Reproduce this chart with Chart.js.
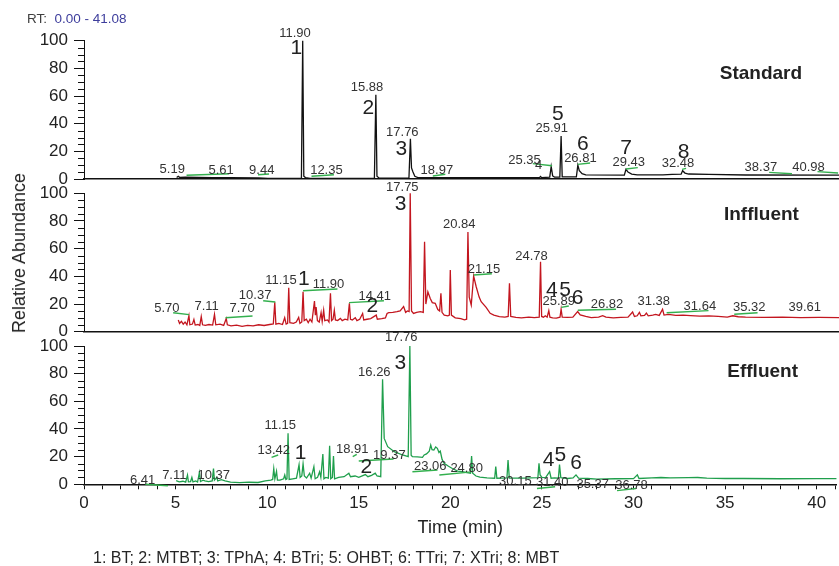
<!DOCTYPE html>
<html><head><meta charset="utf-8">
<script src="https://cdn.jsdelivr.net/npm/chart.js@4.4.1/dist/chart.umd.min.js"></script>
<style>
html,body{margin:0;padding:0;background:#fff;}
#wrap{position:relative;width:839px;height:566px;overflow:hidden;font-family:"Liberation Sans",Arial,sans-serif;}
canvas{position:absolute;left:0;top:0;}
.txt{position:absolute;white-space:nowrap;color:#262626;}
</style></head><body>
<div id="wrap">
<canvas id="cStd" width="839" height="566"></canvas>
<canvas id="cInf" width="839" height="566"></canvas>
<canvas id="cEff" width="839" height="566"></canvas>
<div class="txt" style="left:27px;top:11px;font-size:13.5px;line-height:16px;color:#404040;">RT:&nbsp; <span style="color:#3d3d9c">0.00 - 41.08</span></div>
<div class="txt" style="left:19px;top:252.5px;font-size:18px;line-height:20px;transform:translate(-50%,-50%) rotate(-90deg);">Relative Abundance</div>
<div class="txt" style="left:93px;top:548.5px;font-size:16px;line-height:18px;">1: BT; 2: MTBT; 3: TPhA; 4: BTri; 5: OHBT; 6: TTri; 7: XTri; 8: MBT</div>
</div>
<script>
// ---------- DATA ----------
const xTickLabels = [0, 5, 10, 15, 20, 25, 30, 35, 40];
const yTickLabels = [0, 20, 40, 60, 80, 100];

// Standard chromatogram [time (min), relative abundance]
const stdTrace = [
  [5.04,1.0],[5.13,2.0],[5.2,1.2],[5.5,1.3],[7.0,1.0],[8.0,0.9],[9.5,0.8],[10.0,0.5],[11.5,0.4],
  [11.83,0.5],[11.9,100],[11.96,2],[12.05,1],[12.3,0.5],[15.8,0.5],[15.88,61],[15.94,2],[16.05,0.8],
  [17.68,0.6],[17.76,29],[17.82,8],[17.9,5],[18.0,2],[18.2,0.9],[24.78,1.0],[24.84,1.8],[24.9,1.0],
  [25.34,1.3],[25.42,9],[25.5,2.2],[25.6,1.4],[25.89,1.4],[25.96,31],[26.02,1.6],[26.79,1.6],
  [26.87,10],[26.95,6],[27.1,3.8],[27.3,3.0],[29.4,2.8],[29.49,7],[29.6,5],[29.8,3.6],[30.1,3.0],
  [31.5,3.0],[32.0,3.4],[32.49,3.5],[32.57,6],[32.7,4.3],[32.9,3.6],[34.0,3.3],[36.0,2.9],[41.08,2.8]
];
// Influent chromatogram
const infTrace = [
  [5.13,8.5],[5.2,6],[5.3,7.5],[5.4,5.5],[5.5,7],[5.6,5],[5.71,11.6],[5.76,5],[5.9,5.5],[5.98,8.9],
  [6.05,4.8],[6.2,5.2],[6.3,4.5],[6.38,10.9],[6.45,5],[6.6,4.6],[6.8,5.2],[7.0,4.8],[7.1,12.5],[7.17,5],
  [7.4,5.4],[7.6,4.5],[7.74,9.6],[7.8,5],[8.0,4.2],[8.3,4.8],[8.6,3.9],[8.9,4.6],[9.2,4.2],[9.5,5],
  [9.8,4.5],[10.1,5.2],[10.3,5.6],[10.38,21.2],[10.44,5.5],[10.6,6],[10.8,5.2],[10.92,10.1],[11.0,5.5],
  [11.08,6],[11.14,31.8],[11.2,6.5],[11.4,6],[11.55,7],[11.68,10.3],[11.75,6],[11.85,7],[11.92,28.9],
  [11.98,8],[12.1,9],[12.2,6.5],[12.3,9],[12.4,7],[12.54,22.2],[12.59,12],[12.63,17.8],[12.7,8],[12.8,7],
  [12.9,13.8],[12.96,7.5],[13.04,15.5],[13.1,8],[13.25,8.5],[13.33,7],[13.41,27.7],[13.47,8],[13.55,9],
  [13.62,15.5],[13.68,8.5],[13.8,8],[13.95,9.6],[14.05,8],[14.2,9],[14.35,8.5],[14.44,20.5],[14.5,9],
  [14.6,8.5],[14.76,10.1],[14.85,8],[15.0,9],[15.16,13.2],[15.22,8.5],[15.4,9],[15.6,9.5],[15.9,12],
  [15.96,9],[16.2,9.5],[16.4,10],[16.49,13.2],[16.58,13.8],[16.8,14],[17.03,14.5],[17.2,15],[17.39,18.1],
  [17.5,14],[17.6,15],[17.69,14.5],[17.75,100],[17.82,15],[17.93,13.2],[18.1,14],[18.3,14.5],[18.46,14],
  [18.53,65],[18.6,20],[18.71,28.8],[18.84,24],[18.95,21],[19.11,20.5],[19.25,16],[19.35,15],[19.42,27.7],
  [19.48,14],[19.6,12],[19.8,11.5],[19.88,12],[19.93,44.6],[19.99,12],[20.2,10],[20.5,9.5],[20.7,8.5],
  [20.82,9],[20.89,72],[20.96,25],[21.07,19.3],[21.2,40.2],[21.34,32.5],[21.5,25],[21.61,21.7],[21.88,17.6],
  [22.1,13.3],[22.3,12],[22.6,10.9],[22.9,10.5],[23.08,11],[23.15,34.9],[23.22,11],[23.5,10.4],[23.8,10],
  [24.2,10.6],[24.5,10.2],[24.77,10.5],[24.84,50.6],[24.9,11],[25.0,10.5],[25.1,11.5],[25.2,10.5],
  [25.29,15.2],[25.35,10.5],[25.5,10],[25.7,9.8],[25.9,10.5],[25.96,16.2],[26.02,10.5],[26.3,10.3],
  [26.6,10.5],[26.86,14.5],[27.0,12.1],[27.3,11],[27.6,10.2],[28.0,10.6],[28.22,11.6],[28.4,10.5],
  [28.8,10],[29.2,10.3],[29.6,10.5],[29.85,14.2],[29.95,11],[30.1,11.5],[30.22,14],[30.3,11.5],[30.5,11.8],
  [30.6,13.5],[30.7,11.5],[30.95,12],[31.1,12.5],[31.3,11.8],[31.48,16.2],[31.56,12],[31.8,12.5],
  [32.2,11.8],[32.6,12],[33.0,11.6],[33.5,11.2],[34.0,11.5],[34.5,11],[35.0,10.6],[35.3,11.5],[35.6,10.8],
  [36.0,10.6],[37.0,10.4],[38.0,10.5],[39.0,10.2],[40.0,10.3],[41.08,10.1]
];
// Effluent chromatogram
const effTrace = [
  [5.03,2.6],[5.2,1.8],[5.4,2.2],[5.55,1.5],[5.65,6.7],[5.7,1.8],[5.82,2],[5.89,5],[5.95,1.8],[6.1,2.4],
  [6.2,1.6],[6.3,8.4],[6.36,2],[6.5,3],[6.6,2.5],[6.8,2],[7.0,2.5],[7.07,11.3],[7.12,3],[7.25,5],[7.3,2.5],
  [7.5,3.4],[7.7,2.5],[8.0,1.5],[8.5,1.2],[9.0,1.5],[9.5,1.3],[9.9,2.5],[10.2,3],[10.3,3.5],[10.36,11.3],
  [10.42,4],[10.51,9.4],[10.56,3],[10.7,3],[10.9,4],[10.96,6.7],[11.02,3.5],[11.08,4],[11.14,36.9],[11.2,3.5],
  [11.4,4],[11.6,4.5],[11.74,14.1],[11.8,5],[11.89,6],[11.96,14.8],[12.03,6],[12.15,4.5],[12.32,8],[12.4,4.5],
  [12.55,12.7],[12.62,4],[12.75,5],[12.86,9.1],[12.93,5],[13.04,21.9],[13.1,4],[13.2,5],[13.34,4.5],
  [13.41,27.9],[13.47,4],[13.56,5],[13.62,20.5],[13.68,4],[13.9,5],[14.2,5.5],[14.46,8],[14.55,5.5],
  [14.8,6],[15.0,5],[15.36,7],[15.5,5.5],[15.7,6.5],[15.9,8],[16.0,6],[16.2,5.5],[16.3,76],[16.39,33.2],
  [16.58,27.2],[16.94,23.6],[17.39,21.2],[17.7,20],[17.79,100],[17.86,21],[17.93,20],[18.2,19.8],
  [18.48,19.5],[18.57,21.2],[18.7,22],[18.85,24],[18.93,28.4],[19.0,25],[19.1,24.8],[19.2,27],[19.29,26],
  [19.38,23],[19.45,24],[19.55,18],[19.66,15.1],[19.9,13],[20.11,11.4],[20.4,9.5],[20.65,9.1],[20.9,8.5],
  [21.1,8],[21.16,20.5],[21.22,8],[21.4,6],[21.61,5.2],[22.0,4.6],[22.42,4.4],[22.48,12.8],[22.54,4.4],
  [22.8,4.5],[23.09,4.6],[23.15,17.6],[23.22,4.4],[23.6,4.4],[24.0,4.4],[24.4,4.6],[24.78,4.8],[24.84,15.2],
  [24.9,6.8],[25.0,5],[25.2,4.8],[25.42,9.1],[25.5,4.4],[25.7,4.6],[25.9,4.5],[25.96,14.2],[26.03,4.8],
  [26.4,4.2],[26.7,4.6],[26.86,6.8],[27.0,4.4],[27.5,4.2],[28.0,3.8],[29.0,4],[30.0,4.1],[30.21,6.8],
  [30.3,4.2],[31.0,4.6],[31.5,4.9],[32.0,4.7],[33.0,4.8],[33.5,4.9],[34.0,4.4],[35.0,4.2],[36.0,4.2],
  [38.0,4],[40.0,4.1],[41.08,4.1]
];

// Integration baseline marks [t1, v1, t2, v2]
const stdMarks = [[5.58,2.7,7.9,3.8],[9.47,3.1,10.07,3.6],[12.38,2.0,13.6,3.1],[18.98,2.2,19.66,3.4],
  [24.42,11.1,25.47,9.6],[26.86,10.6,27.54,11.6],[29.49,7.2,30.13,8.2],[32.54,7.0,32.76,7.7],
  [37.28,4.8,38.52,3.8],[39.91,5.3,41.03,4.3]];
const infMarks = [[4.85,13.7,5.72,12.3],[7.7,10.1,9.17,11.3],[9.75,22.4,10.41,21.5],[11.92,29.6,13.79,30.9],
  [14.42,21,16.32,22.4],[21.2,41,22.19,41.9],[25.96,17.6,26.38,18.6],[26.87,15.5,28.95,16.2],
  [31.7,13.7,33.98,15.2],[35.38,12.6,36.65,13.7]];
const effMarks = [[3.35,0,4.58,-1],[10.24,19.5,10.6,21.2],[14.67,20,14.89,21.7],[15.0,16.8,16.9,18.3],
  [17.93,9.1,19.3,10.3],[19.4,6.7,21.16,9.0],[24.73,-3,25.72,-1.8],[29.1,-4.6,30.13,-3]];

// Retention-time labels [text, t, v]
const stdPeakLabels = [["5.19",4.8,7],["5.61",7.46,6.5],["9.44",9.67,6.5],["11.90",11.48,105],["12.35",13.19,6],
  ["15.88",15.4,66],["17.76",17.32,33.5],["18.97",19.2,6],["25.35",23.97,13.2],["4",24.73,9.9],["25.91",25.45,36.7],
  ["26.81",27.01,14.7],["29.43",29.64,11.8],["32.48",32.32,11.3],["38.37",36.83,8.5],["40.98",39.42,8.5]];
const infPeakLabels = [["17.75",17.32,104.5],["5.70",4.51,16.9],["7.11",6.67,18],["7.70",8.6,16.6],["10.37",9.31,26],
  ["11.15",10.72,37.4],["11.90",13.3,34.5],["14.41",15.82,25.3],["20.84",20.42,77.6],["21.15",21.76,45],
  ["24.78",24.35,54.7],["25.89",25.83,21.7],["26.82",28.46,19.8],["31.38",31.0,21.7],["31.64",33.51,18],
  ["35.32",36.2,17.3],["39.61",39.22,17.3]];
const effPeakLabels = [["17.76",17.32,106.3],["16.26",15.85,81],["11.15",10.71,42.4],["13.42",10.36,24.3],
  ["18.91",14.64,25.5],["19.37",16.67,20.7],["6.41",3.2,3.1],["7.11",4.93,6.7],["10.37",7.08,6.7],
  ["23.06",18.9,13.2],["24.80",20.89,11.6],["30.15",23.55,1.9],["31.40",25.56,1.4],["35.37",27.77,0.2],
  ["36.78",29.89,-0.5]];

// Compound numbers [text, t, v]
const stdCompounds = [["1",11.55,94.8],["2",15.47,51],["3",17.27,21.5],["5",25.78,46.8],["6",27.14,25],
  ["7",29.49,22.2],["8",32.62,19.7]];
const infCompounds = [["3",17.23,92.3],["1",11.96,38],["2",15.69,18.6],["4",25.45,30.1],["5",26.18,30],["6",26.85,24.1]];
const effCompounds = [["3",17.27,87.5],["1",11.83,22.4],["2",15.42,12.7],["4",25.36,17.1],["5",26.0,21.2],["6",26.86,15.2]];

// Panel titles [text, t, v]
const stdTitle = ["Standard", 36.83, 75.9];
const infTitle = ["Inffluent", 36.86, 84.8];
const effTitle = ["Effluent", 37.05, 81.4];

// ---------- DRAWING ----------
const FAM = '"Liberation Sans", Arial, sans-serif';
const MARK_COLOR = '#33b04e';

function annotPlugin(peaks, comps, title) {
  return {
    id: 'annot',
    afterDraw(chart) {
      const ctx = chart.ctx, xs = chart.scales.x, ys = chart.scales.y;
      ctx.save();
      ctx.strokeStyle = '#111'; ctx.lineWidth = 1;
      ctx.beginPath();
      for (let v = 5; v < 100; v += 5) {
        if (v % 20 === 0) continue;
        const py = Math.round(ys.getPixelForValue(v)) + 0.5;
        ctx.moveTo(xs.left - 6, py); ctx.lineTo(xs.left, py);
      }
      ctx.stroke();
      ctx.textAlign = 'center'; ctx.textBaseline = 'middle';
      ctx.fillStyle = '#333'; ctx.font = '13px ' + FAM;
      peaks.forEach(([s, t, v]) => ctx.fillText(s, xs.getPixelForValue(t), ys.getPixelForValue(v)));
      ctx.fillStyle = '#222'; ctx.font = '21px ' + FAM;
      comps.forEach(([s, t, v]) => ctx.fillText(s, xs.getPixelForValue(t), ys.getPixelForValue(v)));
      ctx.fillStyle = '#222'; ctx.font = 'bold 19px ' + FAM;
      ctx.fillText(title[0], xs.getPixelForValue(title[1]), ys.getPixelForValue(title[2]));
      ctx.restore();
    }
  };
}

function buildPanel(id, trace, color, marks, peaks, comps, title, top, bottom, showX) {
  const datasets = [{
    data: trace.map(p => ({x: p[0], y: p[1]})),
    borderColor: color, borderWidth: 1.3, pointRadius: 0, tension: 0, order: 1, clip: 4
  }];
  marks.forEach(m => datasets.push({
    data: [{x: m[0], y: m[1]}, {x: m[2], y: m[3]}],
    borderColor: MARK_COLOR, borderWidth: 1.4, pointRadius: 0, order: 0, clip: false
  }));
  const xH = showX ? 55 : 0;
  return new Chart(document.getElementById(id), {
    type: 'line',
    data: {datasets},
    options: {
      responsive: false, animation: false, events: [],
      layout: {padding: {top: top, bottom: 566 - bottom - xH, left: 0, right: 0}},
      plugins: {legend: {display: false}, tooltip: {enabled: false}},
      scales: {
        x: {
          type: 'linear', min: 0, max: 41.08,
          afterFit: s => { s.height = xH; },
          border: {display: true, color: '#111', width: 1.5},
          grid: {display: true, drawOnChartArea: false, drawTicks: showX, tickLength: 5, color: '#111'},
          ticks: {display: showX, stepSize: 1, includeBounds: false, autoSkip: false, maxRotation: 0,
            padding: 4, color: '#222', font: {family: FAM, size: 17},
            callback: v => xTickLabels.includes(v) ? String(v) : ''},
          title: {display: showX, text: 'Time (min)', color: '#222', font: {family: FAM, size: 18},
            padding: {top: 0, bottom: 0}}
        },
        y: {
          min: 0, max: 100,
          afterFit: s => { s.width = 84; },
          border: {display: true, color: '#111', width: 1},
          grid: {display: true, drawOnChartArea: false, drawTicks: true, tickLength: 10, color: '#111'},
          ticks: {stepSize: 20, padding: 6, color: '#222', font: {family: FAM, size: 17},
            callback: v => yTickLabels.includes(v) ? String(v) : ''}
        }
      }
    },
    plugins: [annotPlugin(peaks, comps, title)]
  });
}

buildPanel('cStd', stdTrace, '#111111', stdMarks, stdPeakLabels, stdCompounds, stdTitle, 40.7, 179, false);
buildPanel('cInf', infTrace, '#c3161f', infMarks, infPeakLabels, infCompounds, infTitle, 193.3, 331.7, false);
buildPanel('cEff', effTrace, '#1f9f4c', effMarks, effPeakLabels, effCompounds, effTitle, 346, 484.3, true);
</script>
</body></html>
